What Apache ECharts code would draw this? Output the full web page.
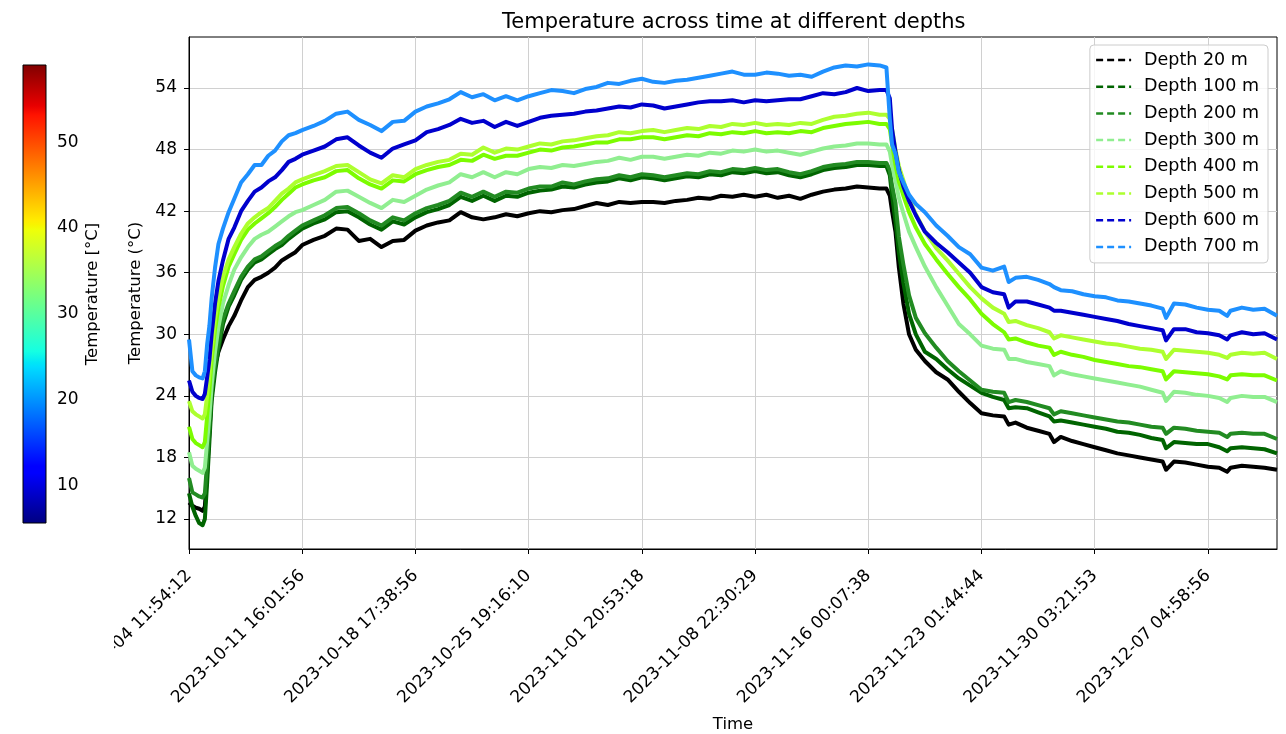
<!DOCTYPE html>
<html>
<head>
<meta charset="utf-8">
<script src="https://cdn.jsdelivr.net/npm/echarts@6/dist/echarts.min.js"></script>
<style>
  html, body { margin: 0; padding: 0; background: #ffffff; }
  #chart { width: 1286px; height: 734px; }
</style>
</head>
<body>
<div id="chart"></div>
<script>
// Position along the time axis, in units of one labelled tick step
const t = [
  0, 0.03, 0.06, 0.09, 0.12, 0.14,
  0.16, 0.18, 0.20, 0.23, 0.26, 0.30, 0.35, 0.40, 0.46, 0.52, 0.58, 0.64, 0.70, 0.76, 0.82, 0.88, 0.94, 1.00,
  1.1, 1.2, 1.3, 1.4, 1.5, 1.6, 1.7, 1.8, 1.9, 2.0,
  2.1, 2.2, 2.3, 2.4, 2.5, 2.6, 2.7, 2.8, 2.9, 3.0,
  3.1, 3.2, 3.3, 3.4, 3.5, 3.6, 3.7, 3.8, 3.9, 4.0,
  4.1, 4.2, 4.3, 4.4, 4.5, 4.6, 4.7, 4.8, 4.9, 5.0,
  5.1, 5.2, 5.3, 5.4, 5.5, 5.6, 5.7, 5.8, 5.9, 6.0,
  6.1, 6.16,
  6.19, 6.21, 6.24, 6.27, 6.31, 6.36, 6.42, 6.50, 6.60, 6.70, 6.80, 6.90, 7.00, 7.10,
  7.20, 7.24, 7.30, 7.40, 7.50, 7.60, 7.64, 7.70, 7.80, 7.90,
  8.00, 8.10, 8.20, 8.30, 8.40, 8.50, 8.60, 8.63,
  8.70, 8.80, 8.90, 9.00, 9.10, 9.17, 9.20, 9.30, 9.40, 9.50, 9.61
];

// Sensor temperatures (°C) at each depth
const depth20 = [
  13.6, 13.3, 13.1, 13.0, 12.8, 13.2,
  16.5, 20.5, 24.0, 27.0, 28.3, 29.5, 30.8, 31.8, 33.3, 34.6, 35.3, 35.6, 36.0, 36.5, 37.2, 37.6, 38.0, 38.7,
  39.2, 39.6, 40.3, 40.2, 39.1, 39.3, 38.5, 39.1, 39.2, 40.1,
  40.6, 40.9, 41.1, 41.9, 41.4, 41.2, 41.4, 41.7, 41.5, 41.8,
  42.0, 41.9, 42.1, 42.2, 42.5, 42.8, 42.6, 42.9, 42.8, 42.9,
  42.9, 42.8, 43.0, 43.1, 43.3, 43.2, 43.5, 43.4, 43.6, 43.4,
  43.6, 43.3, 43.5, 43.2, 43.6, 43.9, 44.1, 44.2, 44.4, 44.3,
  44.2, 44.2,
  43.5, 42.0, 40.0, 36.5, 33.0, 30.0, 28.5, 27.4, 26.3, 25.6, 24.4, 23.3, 22.3, 22.1,
  22.0, 21.2, 21.4, 20.9, 20.6, 20.3, 19.5, 20.0, 19.6, 19.3,
  19.0, 18.7, 18.4, 18.2, 18.0, 17.8, 17.6, 16.8,
  17.6, 17.5, 17.3, 17.1, 17.0, 16.6, 17.0, 17.2, 17.1, 17.0, 16.8
];
const depth100 = [
  14.5, 13.2, 12.3, 11.6, 11.4, 12.0,
  15.5, 19.5, 23.5, 26.3, 28.5, 31.0, 32.7, 33.8, 35.3, 36.3, 37.0, 37.3, 37.8, 38.3, 38.7, 39.3, 39.8, 40.3,
  40.8, 41.2, 41.9, 42.0, 41.4, 40.7, 40.2, 41.0, 40.7, 41.4,
  41.9, 42.2, 42.6, 43.4, 43.0, 43.5, 43.0, 43.5, 43.4, 43.8,
  44.0, 44.1, 44.4, 44.3, 44.6, 44.8, 44.9, 45.2, 45.0, 45.3,
  45.2, 45.0, 45.2, 45.4, 45.3, 45.6, 45.5, 45.8, 45.7, 45.9,
  45.7, 45.8, 45.5, 45.3, 45.6, 46.0, 46.2, 46.3, 46.5, 46.5,
  46.4, 46.4,
  45.5, 43.5, 41.0, 38.0, 35.0, 32.0, 30.0, 28.3, 27.6, 26.6, 25.7, 25.0, 24.3, 23.9,
  23.6, 22.8, 22.9, 22.8, 22.4, 22.0, 21.5, 21.6, 21.4, 21.2,
  21.0, 20.8, 20.5, 20.4, 20.2, 19.9, 19.7, 18.9,
  19.5, 19.4, 19.3, 19.3, 19.0, 18.6, 18.9, 19.0, 18.9, 18.8, 18.4
];
const depth200 = [
  16.0, 14.6, 14.4, 14.2, 14.1, 14.5,
  17.5, 21.0, 24.5, 27.0, 29.0, 31.5, 33.0, 34.2, 35.6, 36.6, 37.3, 37.6, 38.1, 38.6, 39.0, 39.6, 40.1, 40.6,
  41.1, 41.6, 42.3, 42.4, 41.8, 41.1, 40.6, 41.4, 41.1, 41.8,
  42.3, 42.6, 43.0, 43.8, 43.4, 43.9, 43.4, 43.9, 43.8, 44.2,
  44.4, 44.4, 44.8, 44.6, 44.9, 45.1, 45.2, 45.5, 45.3, 45.6,
  45.5, 45.3, 45.5, 45.7, 45.6, 45.9, 45.8, 46.1, 46.0, 46.2,
  46.0, 46.1, 45.8, 45.6, 45.9, 46.3, 46.5, 46.6, 46.8, 46.8,
  46.7, 46.7,
  46.0, 44.5, 42.8, 39.5, 36.8, 33.8, 31.6, 30.1, 28.7, 27.4, 26.4, 25.5, 24.6, 24.4,
  24.3, 23.4, 23.6, 23.4, 23.1, 22.8, 22.2, 22.5, 22.3, 22.1,
  21.9, 21.7, 21.5, 21.4, 21.2, 21.0, 20.9, 20.3,
  20.9, 20.8, 20.6, 20.5, 20.4, 20.0, 20.3, 20.4, 20.3, 20.3, 19.8
];
const depth300 = [
  18.5, 17.2, 16.9, 16.7, 16.5, 17.0,
  19.5, 22.0, 25.0, 28.3, 30.7, 33.0, 34.8, 36.3, 37.5, 38.5, 39.3, 39.7, 40.0, 40.5, 41.0, 41.5, 41.9, 42.1,
  42.6, 43.1, 43.9, 44.0, 43.4, 42.8, 42.3, 43.1, 42.9, 43.5,
  44.1, 44.5, 44.8, 45.6, 45.3, 45.8, 45.3, 45.8, 45.6, 46.1,
  46.3, 46.2, 46.5, 46.4, 46.6, 46.8, 46.9, 47.2, 47.0, 47.3,
  47.3, 47.1, 47.3, 47.5, 47.4, 47.7, 47.6, 47.9, 47.8, 48.0,
  47.8, 47.9, 47.7, 47.5, 47.8, 48.1, 48.3, 48.4, 48.6, 48.6,
  48.5, 48.5,
  47.8, 46.5, 45.0, 43.3, 41.8, 40.0, 38.5, 36.6, 34.6, 32.8, 31.0, 30.0, 28.9, 28.6,
  28.5, 27.6, 27.6, 27.3, 27.1, 26.9, 26.0, 26.4, 26.1, 25.9,
  25.7, 25.5, 25.3, 25.1, 24.9, 24.6, 24.3, 23.5,
  24.4, 24.3, 24.1, 24.0, 23.8, 23.4, 23.8, 24.0, 23.9, 23.9, 23.4
];
const depth400 = [
  21.0, 19.8, 19.4, 19.2, 19.0, 19.5,
  22.0, 24.5, 27.5, 30.5, 32.6, 34.7, 36.6, 37.8, 39.2, 40.2, 40.8, 41.3, 41.8, 42.4, 43.1, 43.7, 44.3, 44.6,
  45.0, 45.3, 45.9, 46.0, 45.2, 44.6, 44.2, 45.0, 44.9, 45.6,
  46.0, 46.3, 46.5, 47.0, 46.9, 47.5, 47.1, 47.4, 47.4, 47.7,
  48.0, 47.9, 48.2, 48.3, 48.5, 48.7, 48.7, 49.0, 49.0, 49.2,
  49.2, 49.0, 49.2, 49.4, 49.3, 49.6, 49.5, 49.7, 49.6, 49.8,
  49.6, 49.7, 49.6, 49.8, 49.7, 50.1, 50.3, 50.5, 50.6, 50.7,
  50.5, 50.5,
  50.0, 48.5, 46.5, 44.9, 43.5, 41.9, 40.4, 38.8, 37.3, 35.9, 34.6, 33.4, 32.0, 31.0,
  30.2, 29.5, 29.6, 29.2, 28.9, 28.7, 28.0, 28.3, 28.0, 27.8,
  27.5, 27.3, 27.1, 26.9, 26.8, 26.6, 26.4, 25.6,
  26.4, 26.3, 26.2, 26.1, 25.9, 25.6, 26.0, 26.1, 26.0, 26.0, 25.5
];
const depth500 = [
  23.5, 22.5, 22.2, 22.0, 21.8, 22.2,
  24.0, 26.0, 28.5, 31.5, 33.5, 35.6, 37.3, 38.5, 39.8, 40.8, 41.4, 41.9, 42.3, 43.0, 43.7, 44.2, 44.8, 45.1,
  45.5, 45.9, 46.4, 46.5, 45.8, 45.1, 44.7, 45.5, 45.3, 46.1,
  46.5, 46.8, 47.0, 47.6, 47.5, 48.2, 47.7, 48.1, 48.0, 48.3,
  48.6, 48.5, 48.8, 48.9, 49.1, 49.3, 49.4, 49.7, 49.6, 49.8,
  49.9, 49.7, 49.9, 50.1, 50.0, 50.3, 50.2, 50.5, 50.4, 50.6,
  50.4, 50.5, 50.4, 50.6, 50.5, 50.9, 51.2, 51.3, 51.5, 51.6,
  51.4, 51.4,
  51.0, 50.0, 48.0, 46.4, 45.0, 43.2, 41.7, 40.0, 38.4, 37.2, 35.9, 34.6, 33.5, 32.6,
  32.0, 31.2, 31.3, 30.9, 30.6, 30.2, 29.6, 29.9, 29.7, 29.5,
  29.3, 29.1, 29.0, 28.8, 28.6, 28.5, 28.3, 27.6,
  28.5, 28.4, 28.3, 28.2, 28.0, 27.7, 28.0, 28.2, 28.1, 28.2, 27.6
];
const depth600 = [
  25.5, 24.4, 24.0, 23.8, 23.7, 24.2,
  25.8, 27.5, 30.0, 33.0, 35.2, 37.2, 39.3, 40.4, 42.0, 43.0, 43.9, 44.3, 44.9, 45.3, 46.0, 46.8, 47.1, 47.5,
  47.9, 48.3, 49.0, 49.2, 48.4, 47.7, 47.2, 48.1, 48.5, 48.9,
  49.7, 50.0, 50.4, 51.0, 50.6, 50.8, 50.2, 50.7, 50.3, 50.7,
  51.1, 51.3, 51.4, 51.5, 51.7, 51.8, 52.0, 52.2, 52.1, 52.4,
  52.3, 52.0, 52.2, 52.4, 52.6, 52.7, 52.7, 52.8, 52.6, 52.8,
  52.7, 52.8, 52.9, 52.9, 53.2, 53.5, 53.4, 53.6, 54.0, 53.7,
  53.8, 53.8,
  53.0, 50.0, 47.8, 46.0, 44.4, 43.0, 41.6, 40.0, 38.9, 38.0, 37.0, 36.0, 34.6, 34.1,
  33.9, 32.6, 33.2, 33.2, 32.9, 32.6, 32.3, 32.3, 32.1, 31.9,
  31.7, 31.5, 31.3, 31.0, 30.8, 30.6, 30.4, 29.4,
  30.5, 30.5, 30.2, 30.1, 29.9, 29.5, 29.9, 30.2, 30.0, 30.1, 29.5
];
const depth700 = [
  29.5, 26.4, 26.0, 25.8, 25.7, 26.4,
  29.0, 30.8, 33.5, 36.5, 38.8, 40.3, 41.9, 43.2, 44.8, 45.6, 46.5, 46.5, 47.4, 47.9, 48.8, 49.4, 49.6, 49.9,
  50.3, 50.8, 51.5, 51.7, 50.9, 50.4, 49.8, 50.7, 50.8, 51.7,
  52.2, 52.5, 52.9, 53.6, 53.1, 53.4, 52.8, 53.2, 52.8, 53.2,
  53.5, 53.8, 53.7, 53.5, 53.9, 54.1, 54.5, 54.4, 54.7, 54.9,
  54.6, 54.5, 54.7, 54.8, 55.0, 55.2, 55.4, 55.6, 55.3, 55.3,
  55.5, 55.4, 55.2, 55.3, 55.1, 55.6, 56.0, 56.2, 56.1, 56.3,
  56.2, 56.0,
  51.0, 48.5, 47.6, 45.8, 44.8, 43.6, 42.7, 41.9, 40.6, 39.6, 38.5, 37.8, 36.5, 36.2,
  36.6, 35.1, 35.5, 35.6, 35.3, 34.9, 34.6, 34.3, 34.2, 33.9,
  33.7, 33.6, 33.3, 33.2, 33.0, 32.8, 32.5, 31.6,
  33.0, 32.9, 32.6, 32.4, 32.3, 31.8, 32.3, 32.6, 32.4, 32.5, 31.8
];

const seriesNames = ['Depth 20 m', 'Depth 100 m', 'Depth 200 m', 'Depth 300 m',
                     'Depth 400 m', 'Depth 500 m', 'Depth 600 m', 'Depth 700 m'];
const seriesValues = [depth20, depth100, depth200, depth300, depth400, depth500, depth600, depth700];

const tickLabels = [
  '2023-10-04 11:54:12', '2023-10-11 16:01:56', '2023-10-18 17:38:56', '2023-10-25 19:16:10',
  '2023-11-01 20:53:18', '2023-11-08 22:30:29', '2023-11-16 00:07:38', '2023-11-23 01:44:44',
  '2023-11-30 03:21:53', '2023-12-07 04:58:56'
];
const tempTicks = [12, 18, 24, 30, 36, 42, 48, 54];
const colorbarTicks = [10, 20, 30, 40, 50];
const colorbarRange = [5.6, 59.0];

// Styling
const FONT = 'DejaVu Sans';
const TICK_FONT = 17;
const lineColors = ['#000000', '#006400', '#228b22', '#90ee90', '#7cfc00', '#adff2f', '#0000cd', '#1e90ff'];
const jetStops = [
  [0, 'rgb(0,0,128)'], [0.11, 'rgb(0,0,255)'], [0.125, 'rgb(0,0,255)'],
  [0.34, 'rgb(0,219,255)'], [0.35, 'rgb(0,230,247)'], [0.375, 'rgb(21,255,226)'],
  [0.64, 'rgb(239,255,8)'], [0.65, 'rgb(247,245,0)'], [0.66, 'rgb(255,236,0)'],
  [0.89, 'rgb(255,19,0)'], [0.91, 'rgb(232,0,0)'], [1, 'rgb(128,0,0)']
];
const tickPos = tickLabels.map((_, i) => i);

const chart = echarts.init(document.getElementById('chart'), null, { renderer: 'canvas' });

const lineSeries = seriesNames.map((name, k) => ({
  name: name,
  type: 'line',
  xAxisIndex: 0,
  yAxisIndex: 0,
  symbol: 'none',
  showSymbol: false,
  data: t.map((x, i) => [x, seriesValues[k][i]]),
  lineStyle: { width: 4, color: lineColors[k], type: 'solid', join: 'round' },
  itemStyle: { color: lineColors[k] },
  emphasis: { disabled: true },
  z: 3 + k
}));

// Jet colour scale bar drawn between the two ends of its own value axis
const colorbarSeries = {
  type: 'custom',
  xAxisIndex: 1,
  yAxisIndex: 1,
  silent: true,
  data: [[0, colorbarRange[0], colorbarRange[1]]],
  renderItem: function (params, api) {
    const p0 = api.coord([0, api.value(1)]);
    const p1 = api.coord([1, api.value(2)]);
    return {
      type: 'rect',
      shape: { x: p0[0], y: p1[1], width: p1[0] - p0[0], height: p0[1] - p1[1] },
      style: {
        fill: new echarts.graphic.LinearGradient(0, 1, 0, 0,
          jetStops.map(s => ({ offset: s[0], color: s[1] }))),
        stroke: '#000',
        lineWidth: 1
      }
    };
  }
};

const option = {
  animation: false,
  backgroundColor: '#ffffff',
  textStyle: { fontFamily: FONT },
  title: {
    text: 'Temperature across time at different depths',
    left: 497,
    top: 7,
    textStyle: { fontFamily: FONT, fontSize: 21, fontWeight: 'normal', color: '#000' }
  },
  legend: {
    orient: 'vertical',
    right: 18,
    top: 45,
    padding: [6, 9, 7, 5],
    itemGap: 8.7,
    itemWidth: 35,
    itemHeight: 14,
    backgroundColor: 'rgba(255,255,255,0.8)',
    borderColor: '#cccccc',
    borderWidth: 1,
    borderRadius: 4,
    lineStyle: { type: [7, 4], width: 2.5 },
    itemStyle: { opacity: 0 },
    textStyle: { fontFamily: FONT, fontSize: 17.5, color: '#000', lineHeight: 18, padding: [0, 0, 0, 8] },
    data: seriesNames
  },
  // The area left of the colorbar column below it stays blank, as the tick text there is cut off
  graphic: [{
    type: 'rect', left: 0, top: 556, z: 100, silent: true,
    shape: { width: 114, height: 178 },
    style: { fill: '#ffffff' }
  }],
  grid: [
    { left: 189, top: 37, width: 1088, height: 512, outerBoundsMode: 'none', containLabel: false,
      show: true, borderColor: '#000', borderWidth: 1, backgroundColor: 'transparent' },
    { left: 23, top: 65, width: 23, height: 458, outerBoundsMode: 'none', containLabel: false }
  ],
  xAxis: [
    {
      type: 'value', gridIndex: 0, min: 0, max: 9.61, interval: 1,
      name: 'Time', nameLocation: 'middle', nameGap: 167,
      nameTextStyle: { fontFamily: FONT, fontSize: 16.5, color: '#000' },
      axisLine: { show: true, onZero: false, lineStyle: { color: '#000', width: 1 } },
      axisTick: { show: true, length: 5, customValues: tickPos, lineStyle: { color: '#000' } },
      axisLabel: {
        customValues: tickPos, rotate: 45, margin: 24,
        fontFamily: FONT, fontSize: TICK_FONT, color: '#000',
        formatter: v => tickLabels[Math.round(v)]
      },
      splitLine: { show: true, lineStyle: { color: '#d0d0d0', width: 1 } }
    },
    { type: 'value', gridIndex: 1, min: 0, max: 1, show: false }
  ],
  yAxis: [
    {
      type: 'value', gridIndex: 0, min: 9.08, max: 58.97,
      name: 'Temperature (°C)', nameLocation: 'middle', nameGap: 44, nameRotate: 90,
      nameTextStyle: { fontFamily: FONT, fontSize: 16.5, color: '#000' },
      axisLine: { show: true, onZero: false, lineStyle: { color: '#000', width: 1 } },
      axisTick: { show: true, length: 5, customValues: tempTicks, lineStyle: { color: '#000' } },
      axisLabel: { customValues: tempTicks, margin: 12, fontFamily: FONT, fontSize: TICK_FONT, color: '#000' },
      splitLine: { show: true, lineStyle: { color: '#d0d0d0', width: 1 } }
    },
    {
      type: 'value', gridIndex: 1, position: 'right',
      min: colorbarRange[0], max: colorbarRange[1],
      name: 'Temperature [°C]', nameLocation: 'middle', nameGap: 38, nameRotate: 90,
      nameTextStyle: { fontFamily: FONT, fontSize: 16.5, color: '#000' },
      axisLine: { show: false },
      axisTick: { show: true, length: 4, customValues: colorbarTicks, lineStyle: { color: '#000' } },
      axisLabel: { customValues: colorbarTicks, margin: 11, fontFamily: FONT, fontSize: TICK_FONT, color: '#000' },
      splitLine: { show: false }
    }
  ],
  series: lineSeries.concat([colorbarSeries])
};

chart.setOption(option);
</script>
</body>
</html>
